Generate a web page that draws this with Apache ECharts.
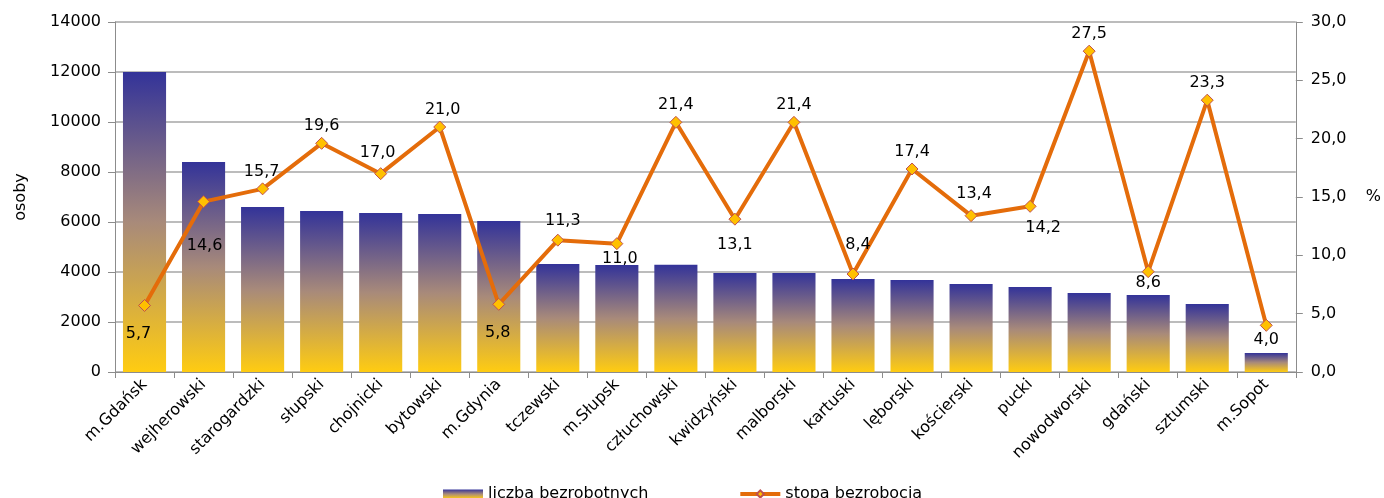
<!DOCTYPE html>
<html>
<head>
<meta charset="utf-8">
<script src="https://cdn.jsdelivr.net/npm/echarts@6/dist/echarts.min.js"></script>
<style>
html,body{margin:0;padding:0;background:#fff;}
#c{width:1384px;height:498px;}
</style>
</head>
<body>
<div id="c"></div>
<script>
const categories = ['m.Gdańsk','wejherowski','starogardzki','słupski','chojnicki','bytowski','m.Gdynia','tczewski','m.Słupsk','człuchowski','kwidzyński','malborski','kartuski','lęborski','kościerski','pucki','nowodworski','gdański','sztumski','m.Sopot'];
const unemployed = [12000,8400,6600,6440,6360,6320,6040,4320,4280,4290,3960,3960,3720,3680,3520,3400,3160,3080,2720,760];
const rate = [5.7,14.6,15.7,19.6,17.0,21.0,5.8,11.3,11.0,21.4,13.1,21.4,8.4,17.4,13.4,14.2,27.5,8.6,23.3,4.0];
const leftTicks = {min:0, max:14000, interval:2000};
const rightTicks = {min:0, max:30, interval:5};

// label placement relative to marker centre (style config, not data)
const labelOffsets = [[-6,28],[1,44],[-1,-17],[0,-17],[-3,-21],[3,-17],[-1,29],[5,-19],[3,15],[0,-17],[0,26],[0,-17],[5,-29],[0,-17],[3,-22],[13,22],[0,-17],[0,11],[0,-17],[0,15]];

const FONT = 'DejaVu Sans';
const FS = 16;
const fmt = v => Number(v).toFixed(1).replace('.', ',');

const chart = echarts.init(document.getElementById('c'), null, {renderer:'canvas'});
const lineData = rate.map((v,i) => ({
  value: v,
  label: {show:true, position:'inside', offset: labelOffsets[i]}
}));

chart.setOption({
  animation:false,
  textStyle:{fontFamily:FONT},
  grid:{left:115, right:87, top:22, bottom:126, containLabel:false},
  legend:{
    top:481, left:438, itemWidth:40, itemHeight:9, itemGap:90,
    textStyle:{fontFamily:FONT, fontSize:FS, color:'#000'},
    data:[{name:'liczba bezrobotnych', icon:'rect'},
          {name:'stopa bezrobocia', lineStyle:{width:4, color:'#E46C0A'}}]
  },
  xAxis:{
    type:'category', data:categories, boundaryGap:true,
    axisLine:{lineStyle:{color:'#8c8c8c', width:1}},
    axisTick:{show:true, alignWithLabel:false, length:6, lineStyle:{color:'#8c8c8c'}},
    axisLabel:{rotate:45, interval:0, margin:10, fontFamily:FONT, fontSize:FS, color:'#000'}
  },
  yAxis:[{
    type:'value', min:leftTicks.min, max:leftTicks.max, interval:leftTicks.interval,
    name:'osoby', nameLocation:'middle', nameGap:86, nameRotate:90,
    nameTextStyle:{fontFamily:FONT, fontSize:FS, color:'#000'},
    axisLine:{show:true, lineStyle:{color:'#8c8c8c'}},
    axisTick:{show:true, length:7, lineStyle:{color:'#8c8c8c'}},
    axisLabel:{margin:14, fontFamily:FONT, fontSize:FS, color:'#000', formatter:v => String(v)},
    splitLine:{show:true, lineStyle:{color:'#a6a6a6', width:1.5}}
  },{
    type:'value', min:rightTicks.min, max:rightTicks.max, interval:rightTicks.interval,
    position:'right',
    name:'%', nameLocation:'middle', nameGap:70, nameRotate:0,
    nameTextStyle:{fontFamily:FONT, fontSize:FS, color:'#000'},
    axisLine:{show:true, lineStyle:{color:'#8c8c8c'}},
    axisTick:{show:true, length:7, lineStyle:{color:'#8c8c8c'}},
    axisLabel:{margin:15, fontFamily:FONT, fontSize:FS, color:'#000', formatter:fmt},
    splitLine:{show:false}
  }],
  series:[{
    name:'liczba bezrobotnych', type:'bar', yAxisIndex:0, data:unemployed,
    barCategoryGap:'27%', z:2,
    itemStyle:{color:new echarts.graphic.LinearGradient(0,0,0,1,[
      {offset:0, color:'#333399'},
      {offset:0.5, color:'#A88A7A'},
      {offset:1, color:'#FFCC11'}
    ])}
  },{
    name:'stopa bezrobocia', type:'line', yAxisIndex:1, data:lineData, z:5,
    symbol:'diamond', symbolSize:12,
    lineStyle:{color:'#E46C0A', width:4},
    itemStyle:{color:'#FFC000', borderColor:'#C0504D', borderWidth:1},
    label:{show:true, formatter:p => fmt(p.value), fontFamily:FONT, fontSize:FS, color:'#000'},
    emphasis:{disabled:true}
  }]
});
</script>
</body>
</html>
